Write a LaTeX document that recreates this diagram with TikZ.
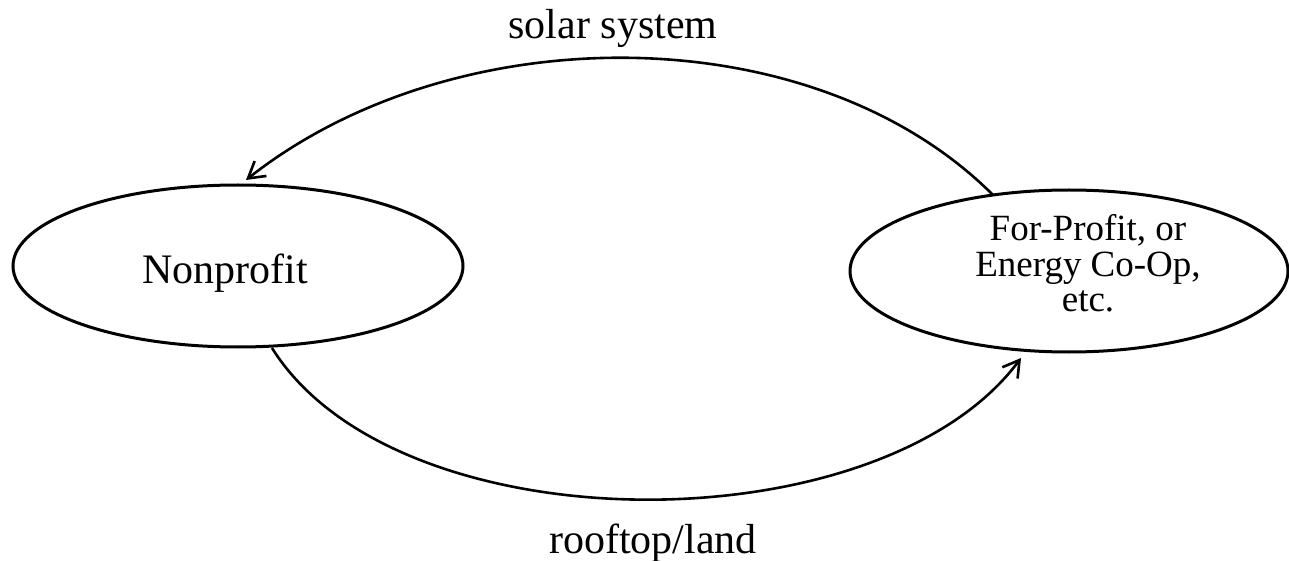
\documentclass[tikz,border=0pt]{standalone}
\usepackage{fontspec}
\setmainfont{Liberation Serif}
\usetikzlibrary{shapes.geometric,arrows.meta}
\begin{document}
\begin{tikzpicture}[x=1pt,y=1pt,
  oval/.style={draw, ellipse, line width=3pt, inner sep=0pt, outer sep=0pt},
  flow/.style={line width=2.6pt, -{Straight Barb[length=16pt,width=19pt,line width=2.6pt]}},
  bigtext/.style={font=\fontsize{42}{44}\selectfont, inner sep=0pt, anchor=base},
  midtext/.style={font=\fontsize{37}{35.5}\selectfont, inner sep=0pt, align=center}
]
\useasboundingbox (0,0) rectangle (1289,560);
\node[oval, minimum width=450pt, minimum height=162pt] (L) at (238,294) {};
\node[oval, minimum width=438pt, minimum height=162pt] (R) at (1069,289) {};
\node[bigtext] (Lt) at (225,276) {Nonprofit};
\node[midtext, anchor=base] (Rt) at (1088,248) {For-Profit, or\\Energy Co-Op,\\etc.};
\coordinate (topstart) at (R.135);
\coordinate (toptip) at ([shift={(8pt,5pt)}]L.north);
\coordinate (botstart) at ([shift={(34pt,-1pt)}]L.south);
\coordinate (bottip) at ([shift={(-48pt,-6pt)}]R.south);
\draw[flow] (topstart) .. controls (813,545) and (455,545) .. (toptip);
\draw[flow] (botstart) .. controls (397,12) and (880,12) .. (bottip);
\node[bigtext] (top) at (613,521) {solar system};
\node[bigtext] (bot) at (653,7) {rooftop/land};
\end{tikzpicture}
\end{document}
